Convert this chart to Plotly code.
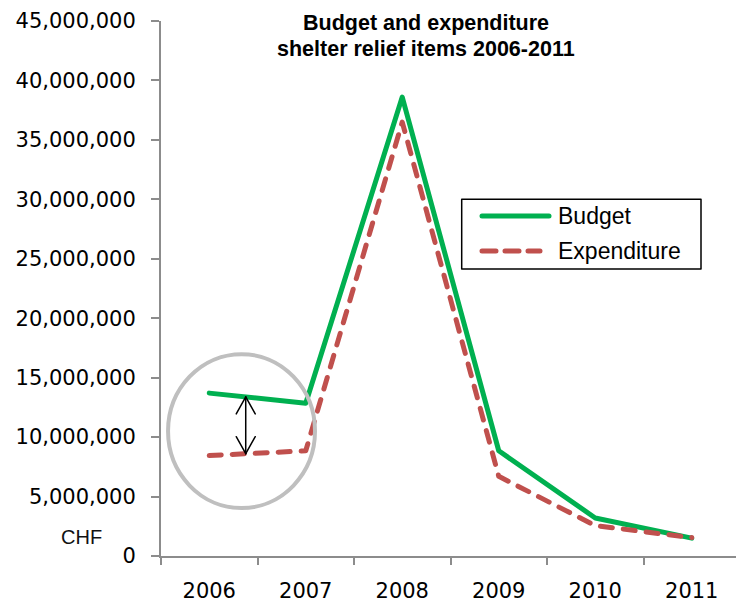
import plotly.graph_objects as go

# Shelter relief items, CHF
years = ["2006", "2007", "2008", "2009", "2010", "2011"]
budget = [13_700_000, 12_850_000, 38_600_000, 8_850_000, 3_200_000, 1_500_000]
expenditure = [8_450_000, 8_850_000, 36_500_000, 6_700_000, 2_550_000, 1_550_000]
y_ticks = list(range(0, 45_000_001, 5_000_000))

GREEN = "#00B050"
RED = "#C0504D"
AXIS = "#8C8C8C"

W, H = 736, 602
ML, MR, MT, MB = 161, 0, 21, 46
PW, PH = W - ML - MR, H - MT - MB
CAT_W = 96.5                      # pixels per category slot
X_MAX = PW / CAT_W - 0.5


def px(xp):
    return (xp - ML) / PW


def py(yp):
    return (H - MB - yp) / PH


fig = go.Figure()
fig.add_trace(go.Scatter(x=years, y=budget, mode="lines", name="Budget",
                         line=dict(color=GREEN, width=5), showlegend=False))
fig.add_trace(go.Scatter(x=years, y=expenditure, mode="lines", name="Expenditure",
                         line=dict(color=RED, width=5, dash="12px,11px"),
                         showlegend=False))

shapes = []
# highlight ring around 2006-2007 gap
shapes.append(dict(type="circle", xref="x", yref="y", x0=-0.427, x1=1.096,
                   y0=4_030_000, y1=16_980_000,
                   line=dict(color="#BFBFBF", width=4)))

# double arrow spanning the budget/expenditure gap
ax = 0.378
top = budget[0] + ax * (budget[1] - budget[0])
bot = expenditure[0] + ax * (expenditure[1] - expenditure[0])
arm_dx = 9.5 / CAT_W
arm_dy = 17 / (PH / 45_000_000)
blk = dict(color="black", width=1.5)
shapes.append(dict(type="line", xref="x", yref="y", x0=ax, x1=ax, y0=top, y1=bot, line=blk))
for s in (-1, 1):
    shapes.append(dict(type="line", xref="x", yref="y", x0=ax, y0=top,
                       x1=ax + s * arm_dx, y1=top - arm_dy, line=blk))
    shapes.append(dict(type="line", xref="x", yref="y", x0=ax, y0=bot,
                       x1=ax + s * arm_dx, y1=bot + arm_dy, line=blk))

# legend box
shapes.append(dict(type="rect", xref="paper", yref="paper",
                   x0=px(461.7), x1=px(701), y0=py(269), y1=py(199.3),
                   line=dict(color="black", width=1.5), fillcolor="white"))
shapes.append(dict(type="line", xref="paper", yref="paper",
                   x0=px(482), x1=px(549), y0=py(216), y1=py(216),
                   line=dict(color=GREEN, width=5)))
shapes.append(dict(type="line", xref="paper", yref="paper",
                   x0=px(482), x1=px(540), y0=py(251), y1=py(251),
                   line=dict(color=RED, width=5, dash="14px,9px")))

annotations = [
    dict(text="Budget", x=px(556), y=py(216), xanchor="left", yanchor="middle"),
    dict(text="Expenditure", x=px(556), y=py(251), xanchor="left", yanchor="middle"),
]
for a in annotations:
    a.update(xref="paper", yref="paper", showarrow=False,
             font=dict(family="Liberation Sans, Arial", size=23, color="black"))

title_font = dict(family="Liberation Sans, Arial", size=21.5, color="black", weight="bold")
for txt, yy in (("Budget and expenditure", 23.5), ("shelter relief items 2006-2011", 49.5)):
    annotations.append(dict(text=txt, x=px(426), y=py(yy), xref="paper", yref="paper",
                            xanchor="center", yanchor="middle", showarrow=False,
                            font=title_font))
annotations.append(dict(text="CHF", x=px(81), y=py(537), xref="paper", yref="paper",
                        xanchor="center", yanchor="middle", showarrow=False,
                        font=dict(family="Liberation Sans, Arial", size=20, color="#111111")))

tick_font = dict(family="DejaVu Sans", size=21, color="black")
fig.update_layout(
    width=W, height=H,
    margin=dict(l=ML, r=MR, t=MT, b=MB, pad=0),
    paper_bgcolor="white", plot_bgcolor="white",
    shapes=shapes, annotations=annotations,
    xaxis=dict(type="category", range=[-0.5, X_MAX], tickson="boundaries",
               showline=True, linecolor=AXIS, linewidth=2, ticks="outside",
               ticklen=7, tickwidth=2, tickcolor=AXIS, showgrid=False,
               zeroline=False, tickfont=tick_font, ticklabelstandoff=15),
    yaxis=dict(range=[0, 45_000_000], tickvals=y_ticks, tickformat=",d",
               showline=True, linecolor=AXIS, linewidth=2, ticks="outside",
               ticklen=8, tickwidth=2, tickcolor=AXIS, showgrid=False,
               zeroline=False, tickfont=tick_font, ticklabelstandoff=11),
)

round_caps = """
document.querySelectorAll('path.js-line, .shapelayer path').forEach(function(p){
  p.style.strokeLinecap = 'round';
  p.style.strokeLinejoin = 'round';
});
"""
fig.write_html("out.html", post_script=round_caps)
